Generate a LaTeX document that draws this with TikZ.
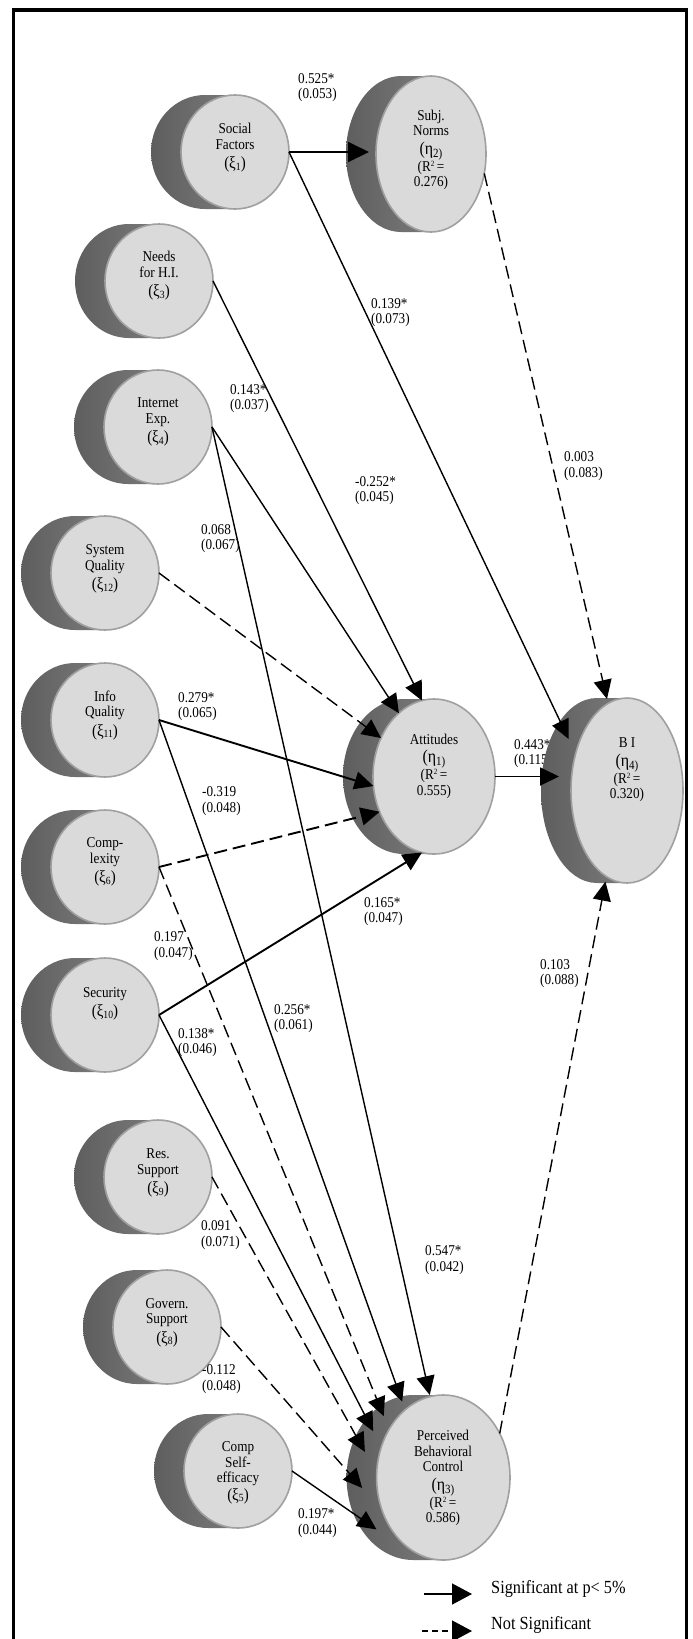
\documentclass[tikz,border=0pt]{standalone}
\usepackage{fontspec}
\setmainfont{Liberation Serif}[FakeStretch=0.88]
\usetikzlibrary{arrows.meta,shapes.geometric,calc}
\definecolor{facefill}{HTML}{DADADA}
\definecolor{faceline}{HTML}{A0A0A0}
\definecolor{sideL}{HTML}{5E5E5E}
\definecolor{sideR}{HTML}{7A7A7A}
\newcommand\xis[1]{{\fontsize{17}{17}\selectfont(ξ\raisebox{-1.5pt}{\fontsize{11}{11}\selectfont#1})}}
\newcommand\etas[1]{{\fontsize{18}{18}\selectfont(η}\raisebox{-3pt}{\fontsize{12.5}{12.5}\selectfont#1)}}
\newcommand\rsq{(R\raisebox{5pt}{\fontsize{8}{8}\selectfont2}\,=}
\newcommand\cylnode[6]{%
  \shade[left color=sideL,right color=sideR] (#2-30,#3-#5) arc[start angle=270,end angle=90,x radius=#4,y radius=#5] -- (#2,#3+#5) -- (#2,#3-#5) -- cycle;
  \node[face,minimum width=#4*2pt,minimum height=#5*2pt] (#1) at (#2,#3) {};
  \node[midell,minimum width=#4*2pt,minimum height=#5*2pt] (#1m) at (#2-#6,#3) {};
}
\tikzset{
 face/.style={ellipse,draw=faceline,line width=1.6pt,fill=facefill,inner sep=0pt,outer sep=0pt},
 midell/.style={ellipse,inner sep=0pt,outer sep=0pt},
 ntext/.style={align=center,inner sep=0pt,font=\fontsize{15}{15.5}\selectfont},
 lbl/.style={align=left,anchor=west,inner sep=0pt,font=\fontsize{15}{15.5}\selectfont},
 conn/.style={line width=1.4pt,-{Triangle[length=19pt,width=18pt]}},
 sig/.style={conn},
 ns/.style={conn,dash pattern=on 13pt off 6pt},
 heavy/.style={line width=1.9pt},
 legtext/.style={anchor=west,inner sep=0pt,font=\fontsize{18.5}{20}\selectfont},
}
\begin{document}
\begin{tikzpicture}[x=1pt,y=-1pt]
\clip (0,0) rectangle (693,1639);
\fill[white] (0,0) rectangle (693,1639);
% frame
\draw[line width=3.5pt] (13.5,1700) -- (13.5,10) -- (686.5,10) -- (686.5,1700);
% label partly hidden behind B I
\node[lbl] (l8) at (514,753.5) {0.443*\\(0.115)};
% constructs
\cylnode{soc}{235}{152}{54}{57}{0}
\cylnode{subj}{431}{154}{55}{78}{7}
\cylnode{needs}{159}{281}{54}{57}{0}
\cylnode{inte}{158}{427}{54}{57}{0}
\cylnode{sysq}{105}{573}{54}{57}{0}
\cylnode{info}{105}{720}{54}{57}{0}
\cylnode{cplx}{105}{867}{54}{57}{0}
\cylnode{sec}{105}{1015}{54}{57}{0}
\cylnode{res}{158}{1177}{54}{57}{0}
\cylnode{gov}{167}{1327}{54}{57}{0}
\cylnode{self}{238}{1471}{54}{57}{0}
\cylnode{att}{434}{776.5}{61}{77.5}{0}
\cylnode{bi}{627}{790.5}{56}{92.5}{12}
\cylnode{pbc}{443.3}{1477.5}{66.7}{82.5}{15}
% construct texts
\node[ntext] (socT) at (235,148) {Social\\Factors\\[4pt]\xis{1}};
\node[ntext] (subjT) at (431,150) {Subj.\\Norms\\[3pt]\etas{2}\\\rsq\\0.276)};
\node[ntext] (needsT) at (159,276) {Needs\\for H.I.\\[4pt]\xis{3}};
\node[ntext] (inteT) at (158,422) {Internet\\Exp.\\[4pt]\xis{4}};
\node[ntext] (sysqT) at (105,569) {System\\Quality\\[4pt]\xis{12}};
\node[ntext] (infoT) at (105,715.5) {Info\\Quality\\[4pt]\xis{11}};
\node[ntext] (cplxT) at (105,862) {Comp-\\lexity\\[4pt]\xis{6}};
\node[ntext] (secT) at (105,1004) {Security\\[4pt]\xis{10}};
\node[ntext] (resT) at (158,1173) {Res.\\Support\\[4pt]\xis{9}};
\node[ntext] (govT) at (167,1322.5) {Govern.\\Support\\[4pt]\xis{8}};
\node[ntext] (selfT) at (238,1473) {Comp\\Self-\\efficacy\\[2pt]\xis{5}};
\node[ntext] (attT) at (434,766) {Attitudes\\[3pt]\etas{1}\\\rsq\\0.555)};
\node[ntext] (biT) at (627,770) {B I\\[3pt]\etas{4}\\\rsq\\0.320)};
\node[ntext] (pbcT) at (443,1478) {Perceived\\Behavioral\\Control\\[3pt]\etas{3}\\\rsq\\0.586)};
% path coefficient labels
\node[lbl] (l1) at (298,87.5) {0.525*\\(0.053)};
\node[lbl] (l2) at (371,312.5) {0.139*\\(0.073)};
\node[lbl] (l3) at (230,398.5) {0.143*\\(0.037)};
\node[lbl] (l4) at (564,466) {0.003\\(0.083)};
\node[lbl] (l5) at (355,490.5) {-0.252*\\(0.045)};
\node[lbl] (l6) at (201,538.5) {0.068\\(0.067)};
\node[lbl] (l7) at (178,706.5) {0.279*\\(0.065)};
\node[lbl] (l9) at (202,801) {-0.319\\(0.048)};
\node[lbl] (l10) at (364,911.5) {0.165*\\(0.047)};
\node[lbl] (l11) at (154,946) {0.197\\(0.047)};
\node[lbl] (l12) at (540,973.5) {0.103\\(0.088)};
\node[lbl] (l13) at (274,1018.5) {0.256*\\(0.061)};
\node[lbl] (l14) at (178,1042.5) {0.138*\\(0.046)};
\node[lbl] (l15) at (201,1235) {0.091\\(0.071)};
\node[lbl] (l16) at (425,1260) {0.547*\\(0.042)};
\node[lbl] (l17) at (202,1379) {-0.112\\(0.048)};
\node[lbl] (l18) at (298,1523) {0.197*\\(0.044)};
% paths
\draw[sig,heavy,-{Triangle[length=21pt,width=20pt]}] (soc.east) -- (soc.east -| subjm.west);
\draw[sig] (soc.east) -- (bim.132);
\draw[ns] (subj.340) -- (bim.95);
\draw[sig] (needs.east) -- (att.99);
\draw[sig] (inte.east) -- (att.119);
\draw[sig] (inte.east) -- (pbcm.89);
\draw[ns] (sysq.east) -- (att.144);
\draw[sig,heavy] (info.east) -- (att.189);
\draw[sig] (info.east) -- (pbcm.109);
\draw[ns,heavy] (cplx.east) -- (att.213);
\draw[ns] (cplx.east) -- (pbcm.126);
\draw[sig,heavy] (sec.east) -- (att.261);
\draw[sig] (sec.east) -- (pbcm.140);
\draw[ns] (res.east) -- (pbcm.158);
\draw[ns] (gov.east) -- (pbcm.189);
\draw[sig] (self.east) -- (pbcm.225);
\draw[sig,heavy] (att.east) -- (att.east -| bim.west);
\draw[ns] (pbc.38) -- (bim.264);
% legend
\coordinate (lgA) at (424,1594);
\coordinate (lgB) at (472,1594);
\coordinate (lgC) at (422,1631);
\coordinate (lgD) at (472,1631);
\draw[sig,-{Triangle[length=20pt,width=21pt]}] (lgA) -- (lgB);
\draw[sig,dash pattern=on 6pt off 4pt,-{Triangle[length=20pt,width=21pt]}] (lgC) -- (lgD);
\node[legtext] (lgT1) at (491,1589) {Significant at p< 5\%};
\node[legtext] (lgT2) at (491,1625) {Not Significant};
\end{tikzpicture}
\end{document}
